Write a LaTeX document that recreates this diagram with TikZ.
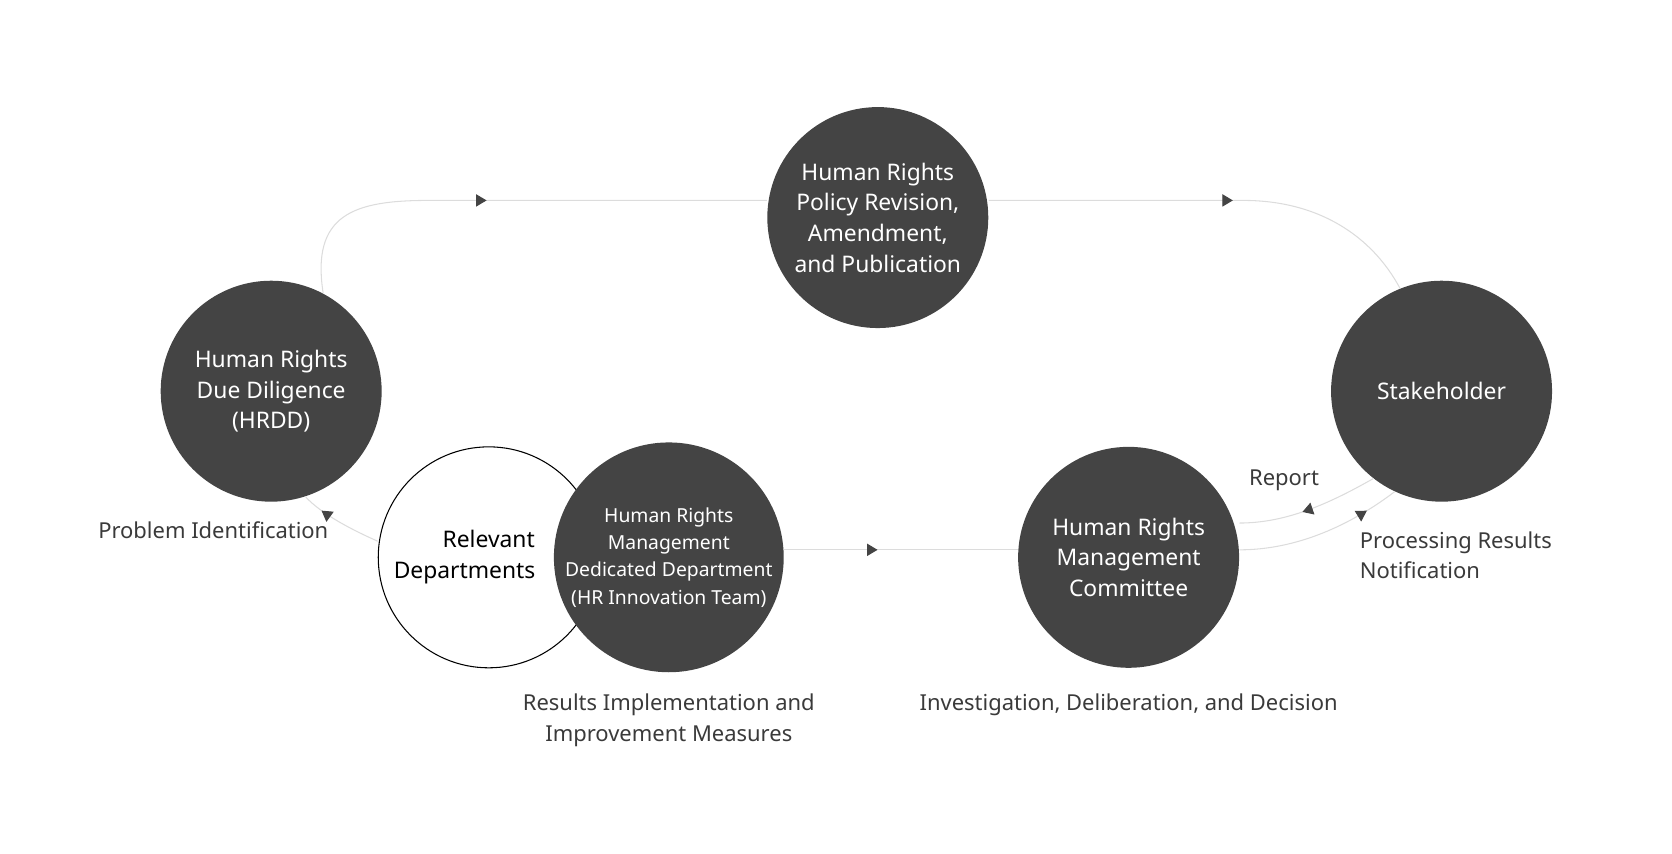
\documentclass[tikz,border=0pt]{standalone}
\usepackage{fontspec}
\setmainfont{Noto Sans}
\usetikzlibrary{arrows.meta,decorations.markings}
\definecolor{stagefill}{HTML}{444444}
\definecolor{flowline}{HTML}{DCDCDC}
\definecolor{labeltext}{HTML}{3A3A3A}

\begin{document}
\begin{tikzpicture}[
    x=0.02144cm, y=-0.02144cm,
    stage/.style={circle, fill=stagefill, minimum size=4.42cm, inner sep=0pt,
      text=white, font=\bfseries\fontsize{13}{17.5}\selectfont, align=center},
    flow/.style={draw=flowline, line width=0.6pt},
    midarrow/.style={postaction={decorate}, decoration={markings,
      mark=at position #1 with {\arrow{Triangle[length=6pt,width=7pt,fill=stagefill,color=stagefill]}}}},
    caption/.style={text=labeltext, font=\fontsize{12.5}{17.5}\selectfont, align=center}
  ]
  \useasboundingbox (0,0) rectangle (1560,796);

  % Stages of the process
  \node[stage] (hrdd) at (253,365) {Human Rights\\Due Diligence\\(HRDD)};
  \node[stage] (policy) at (819,203) {Human Rights\\Policy Revision,\\Amendment,\\and Publication};
  \node[stage] (stake) at (1345,365) {Stakeholder};
  \node[stage] (comm) at (1053,520) {Human Rights\\Management\\Committee};
  \node[circle, draw=black, line width=0.6pt, fill=white, minimum size=4.42cm, inner sep=0pt,
    font=\bfseries\fontsize{13}{17.5}\selectfont, align=center, text=black]
    (rel) at (456,520) {Relevant\\Departments\phantom{xxxx}};
  \node[stage, font=\fontsize{11}{15.5}\selectfont\bfseries] (dept) at (624,520)
    {Human Rights\\Management\\Dedicated Department\\(HR Innovation Team)};

  % Helper points of the flow lines
  \coordinate (tl) at (400,187);
  \coordinate (tr) at (1160,187);

  % Flow lines
  \draw[flow, midarrow=0.45] (hrdd.62) .. controls (290,200) and (330,187) .. (tl) -- (policy.west |- tl);
  \draw[flow, midarrow=0.55] (policy.east |- tr) -- (tr) .. controls (1230,187) and (1280,220) .. (stake.112);
  \draw[flow, midarrow=0.75] (rel.west |- 0,505) .. controls (330,495) and (300,480) .. (hrdd.-72);
  \draw[flow, midarrow=0.4] (dept.east |- 0,513) -- (comm.west |- 0,513);
  \draw[flow, midarrow=0.55] (stake.-128) .. controls (1240,470) and (1200,488) .. (comm.east |- 0,488);
  \draw[flow, midarrow=0.8] (comm.east |- 0,513) .. controls (1210,513) and (1260,490) .. (stake.-115);

  % Captions
  \node[caption] (cap1) at (199,495) {Problem Identification};
  \node[caption] (cap2) at (624,672) {Results Implementation and\\Improvement Measures};
  \node[caption] (cap3) at (1053,658) {Investigation, Deliberation, and Decision};
  \node[caption] (cap4) at (1198,448) {Report};
  \node[caption, align=left, anchor=west] (cap5) at (1263,518) {Processing Results\\Notification};
\end{tikzpicture}
\end{document}
